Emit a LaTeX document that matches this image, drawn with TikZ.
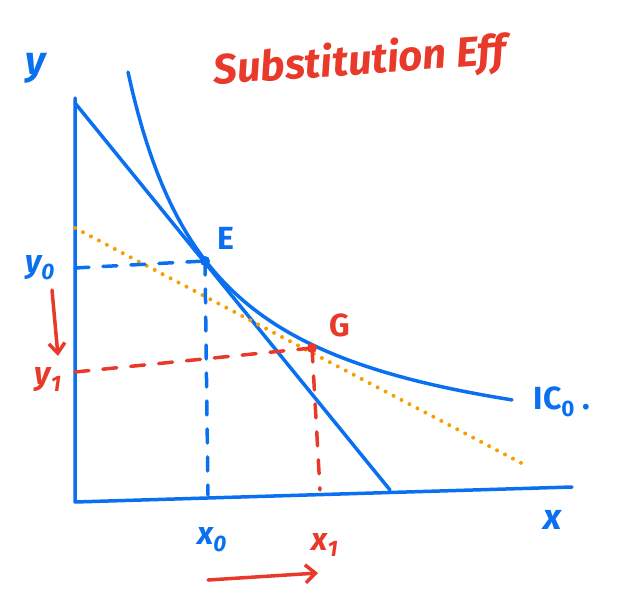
\documentclass[tikz,border=0pt]{standalone}
\usepackage{fontspec}
\setmainfont{Fira Sans}
\usetikzlibrary{arrows.meta}
\definecolor{penblue}{RGB}{10,112,240}
\definecolor{penred}{RGB}{232,57,42}
\definecolor{penorange}{RGB}{245,160,0}
\tikzset{
  ink/.style={line width=3.5pt, line cap=round, line join=round},
  blueink/.style={ink, draw=penblue},
  redink/.style={ink, draw=penred},
  dashblue/.style={blueink, dash pattern=on 14pt off 14pt},
  dashred/.style={redink, dash pattern=on 14pt off 14pt},
  lbl/.style={font=\fontsize{32}{32}\selectfont\bfseries\itshape, inner sep=0pt},
  dot/.style={circle, inner sep=0pt, minimum size=10pt},
}
\begin{document}
\begin{tikzpicture}[x=1pt, y=-1pt]
\useasboundingbox (0,0) rectangle (621,602);
% axes
\coordinate (O) at (75,502);
\coordinate (Ytop) at (75,98);
\coordinate (Xend) at (572,487);
\draw[blueink] (Ytop) -- (O) -- (Xend);
% budget line
\coordinate (B1) at (75,103);
\coordinate (B2) at (390,490);
\draw[blueink] (B1) -- (B2);
% orange dotted
\coordinate (R1) at (75,228);
\coordinate (R2) at (525,465);
\draw[penorange, line width=4pt, line cap=round, dash pattern=on 0pt off 9pt] (R1) -- (R2);
% indifference curve
\draw[blueink] plot[domain=128:512, samples=80] (\x, {475 - 354.54/((\x-40)/100)});
% points
\node[dot, fill=penblue] (E) at (205,261) {};
\node[dot, fill=penred] (G) at (312,348) {};
% dashed guides
\coordinate (y0) at (75,268);
\coordinate (x0) at (208,495);
\coordinate (y1) at (75,372);
\coordinate (x1) at (320,490);
\draw[dashblue] (y0) -- (E.center);
\draw[dashblue] (E.center) -- (x0);
\draw[dashred] (y1) -- (G.center);
\draw[dashred] (G.center) -- (x1);
% labels
\node[lbl, text=penblue, font=\fontsize{40}{40}\selectfont\bfseries\itshape] (ylab) at (36,68) {y};
\node[lbl, text=penblue, font=\fontsize{36}{36}\selectfont\bfseries\itshape] (xlab) at (553,520) {x};
\node[lbl, text=penblue] (y0lab) at (40,268) {y\textsubscript{0}};
\node[lbl, text=penred] (y1lab) at (48,380) {y\textsubscript{1}};
\node[lbl, text=penblue] (x0lab) at (212,540) {x\textsubscript{0}};
\node[lbl, text=penred] (x1lab) at (325,545) {x\textsubscript{1}};
\node[lbl, text=penblue, font=\fontsize{32}{32}\selectfont\bfseries] (Elab) at (226,238) {E};
\node[lbl, text=penred, font=\fontsize{32}{32}\selectfont\bfseries] (Glab) at (340,325) {G};
\node[lbl, text=penblue, font=\fontsize{32}{32}\selectfont\bfseries] (IClab) at (562,402) {IC\textsubscript{0} .};
\node[lbl, text=penred, font=\fontsize{42}{42}\selectfont\bfseries\itshape, rotate=4] (title) at (360,62) {Substitution Eff};
% arrows
\coordinate (a1s) at (52,290);
\coordinate (a1e) at (58,356);
\draw[redink, -{Straight Barb[length=10pt,width=16pt,line width=3.5pt]}] (a1s) -- (a1e);
\coordinate (a2s) at (208,580);
\coordinate (a2e) at (318,573);
\draw[redink, -{Straight Barb[length=10pt,width=18pt,line width=3.5pt]}] (a2s) -- (a2e);
\end{tikzpicture}
\end{document}
